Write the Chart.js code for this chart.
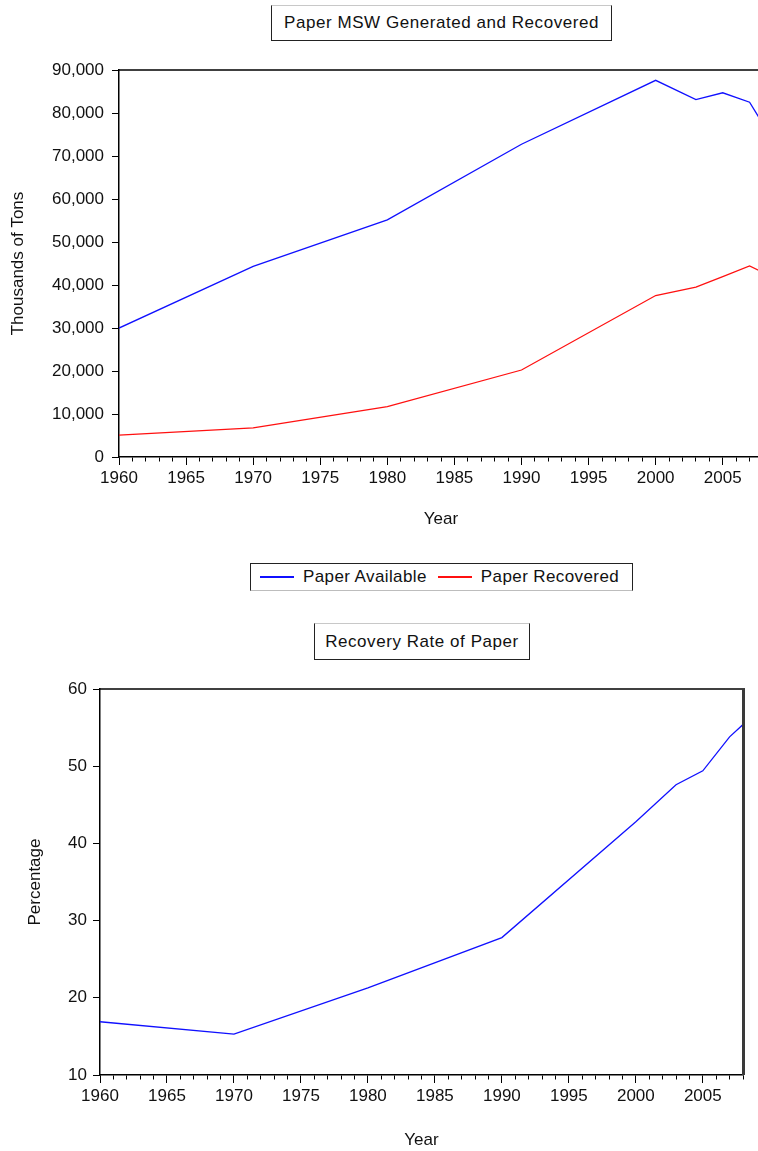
<!DOCTYPE html>
<html>
<head>
<meta charset="utf-8">
<script src="https://cdn.jsdelivr.net/npm/chart.js@4"></script>
<style>
  html, body { margin: 0; padding: 0; background: #fff; overflow: hidden; width: 758px; height: 1151px; }
  body { position: relative; font-family: "Liberation Sans", Arial, sans-serif; color: #111; }
  canvas { position: absolute; left: 0; }
  #topChart { top: 0; }
  #rateChart { top: 600px; }
  .titlebox { position: absolute; box-sizing: border-box; border: 1px solid #222; border-top-color: #c8c8c8;
              font-size: 17px; letter-spacing: 0.55px; display: flex; align-items: center; justify-content: center; background: #fff; }
  #title1 { left: 271px; top: 5px; width: 341px; height: 36px; }
  #title2 { left: 314px; top: 623px; width: 216px; height: 37px; }
  #legend { position: absolute; left: 250px; top: 563px; width: 383px; height: 28px; box-sizing: border-box;
            border: 1px solid #222; border-bottom-color: #bdbdbd; display: flex; align-items: center;
            font-size: 17px; letter-spacing: 0.4px; padding-left: 9px; }
  #legend .item { display: flex; align-items: center; margin-right: 11px; }
  #legend .swatch { display: inline-block; width: 34px; height: 1.5px; margin-right: 9px; }
</style>
</head>
<body>
<div id="title1" class="titlebox">Paper MSW Generated and Recovered</div>
<canvas id="topChart" width="780" height="540"></canvas>
<div id="legend"></div>
<div id="title2" class="titlebox">Recovery Rate of Paper</div>
<canvas id="rateChart" width="758" height="551"></canvas>
<script>
// data
const years = [1960, 1970, 1980, 1990, 2000, 2003, 2005, 2007, 2008];
const paperAvailable = [29990, 44310, 55160, 72730, 87600, 83100, 84700, 82500, 77420];
const paperRecovered = [5080, 6770, 11740, 20230, 37560, 39530, 41960, 44450, 42940];
const recoveryRate = [16.9, 15.3, 21.3, 27.8, 42.8, 47.6, 49.4, 53.8, 55.4];
const seriesNames = ['Paper Available', 'Paper Recovered'];
const seriesColors = ['#1010ff', '#ff1010'];

const FONT = { family: '"Liberation Sans", Arial, sans-serif', size: 17, lineHeight: 1.2 };
Chart.defaults.color = '#111';

const toPoints = vals => years.map((y, i) => ({ x: y, y: vals[i] }));

// draws the extra box edges (top / right) around the plot area
const framePlugin = {
  id: 'frame',
  afterDraw(chart, args, opts) {
    const { ctx, chartArea: a } = chart;
    ctx.save();
    if (opts.top) {
      ctx.strokeStyle = '#000';
      ctx.lineWidth = 1.5;
      ctx.beginPath();
      ctx.moveTo(a.left, a.top);
      ctx.lineTo(a.right + 2, a.top);
      ctx.stroke();
    }
    if (opts.right) {
      ctx.strokeStyle = '#3a3a3a';
      ctx.lineWidth = 3;
      ctx.beginPath();
      ctx.moveTo(a.right + 0.5, a.top);
      ctx.lineTo(a.right + 0.5, a.bottom);
      ctx.stroke();
    }
    ctx.restore();
  }
};

function xScale(titleText) {
  return {
    type: 'linear',
    min: 1960,
    max: 2008,
    afterFit: s => { s.height = s.chart.options.xHeight; },
    ticks: {
      stepSize: 1,
      autoSkip: false,
      maxRotation: 0,
      padding: 3,
      font: FONT,
      color: '#111',
      callback: v => (v % 5 === 0 ? String(v) : '')
    },
    grid: {
      drawOnChartArea: false,
      tickLength: 8,
      tickColor: '#000',
      tickBorderDash: c => (c.tick && c.tick.value % 5 === 0 ? [] : [4, 60])
    },
    border: { display: true, color: '#000', width: 1.5 },
    title: { display: true, text: titleText, font: FONT, color: '#111', padding: { top: 0, bottom: 0 } }
  };
}

function yScale(min, max, step, titleText, width, pad, titlePad) {
  return {
    min: min,
    max: max,
    afterFit: s => { s.width = width; },
    ticks: { stepSize: step, padding: pad, font: FONT, color: '#111' },
    grid: { drawOnChartArea: false, tickLength: 7, tickColor: '#000' },
    border: { display: true, color: '#000', width: 1.5 },
    title: { display: true, text: titleText, font: FONT, color: '#111', padding: { top: titlePad, bottom: 0 } }
  };
}

const lineDefaults = { borderWidth: 1.3, pointRadius: 0, tension: 0, fill: false };

new Chart(document.getElementById('topChart'), {
  type: 'line',
  data: {
    datasets: [
      Object.assign({ label: seriesNames[0], data: toPoints(paperAvailable), borderColor: seriesColors[0] }, lineDefaults),
      Object.assign({ label: seriesNames[1], data: toPoints(paperRecovered), borderColor: seriesColors[1] }, lineDefaults)
    ]
  },
  options: {
    responsive: false,
    animation: false,
    xHeight: 73,
    layout: { padding: { left: 0, top: 70, right: 17, bottom: 10 } },
    plugins: { legend: { display: false }, tooltip: { enabled: false }, frame: { top: true } },
    scales: {
      x: xScale('Year'),
      y: yScale(0, 90000, 10000, 'Thousands of Tons', 119, 8, 8)
    }
  },
  plugins: [framePlugin]
});

new Chart(document.getElementById('rateChart'), {
  type: 'line',
  data: {
    datasets: [
      Object.assign({ label: 'Recovery Rate', data: toPoints(recoveryRate), borderColor: seriesColors[0] }, lineDefaults)
    ]
  },
  options: {
    responsive: false,
    animation: false,
    xHeight: 76,
    layout: { padding: { left: 0, top: 89, right: 15, bottom: 0 } },
    plugins: { legend: { display: false }, tooltip: { enabled: false }, frame: { top: true, right: true } },
    scales: {
      x: xScale('Year'),
      y: yScale(10, 60, 10, 'Percentage', 100, 6, 25)
    }
  },
  plugins: [framePlugin]
});

// legend for the top chart, built from the series names and colours
const legend = document.getElementById('legend');
seriesNames.forEach((name, i) => {
  const item = document.createElement('span');
  item.className = 'item';
  const sw = document.createElement('span');
  sw.className = 'swatch';
  sw.style.background = seriesColors[i];
  item.appendChild(sw);
  item.appendChild(document.createTextNode(name));
  legend.appendChild(item);
});
</script>
</body>
</html>
